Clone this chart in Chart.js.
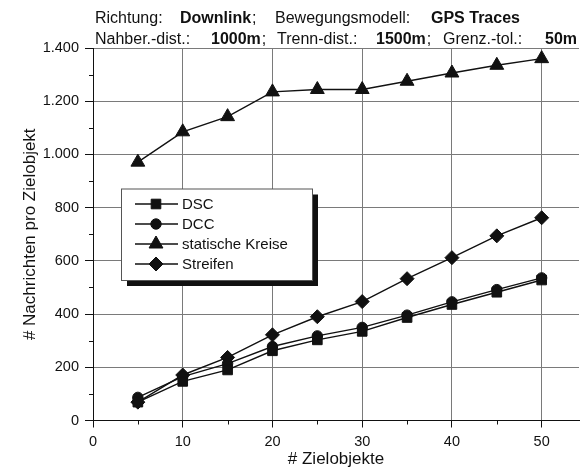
<!DOCTYPE html>
<html>
<head>
<meta charset="utf-8">
<script src="https://cdn.jsdelivr.net/npm/chart.js@4.4.1/dist/chart.umd.min.js"></script>
<style>
  body { margin: 0; background: #fff; }
  #wrap { width: 588px; height: 471px; }
</style>
</head>
<body>
<div id="wrap"><canvas id="chart" width="588" height="471"></canvas></div>
<script>
// values
const zielobjekte = [5, 10, 15, 20, 25, 30, 35, 40, 45, 50];
const dsc = [69, 147, 190, 262, 303, 335, 387, 436, 482, 528];
const dcc = [87, 165, 214, 278, 318, 350, 396, 446, 492, 536];
const statischeKreise = [971, 1085, 1142, 1235, 1244, 1244, 1275, 1306, 1335, 1360];
const streifen = [69, 171, 237, 322, 390, 447, 533, 612, 694, 762];

const seriesNames = ['DSC', 'DCC', 'statische Kreise', 'Streifen'];
const xMinorTicks = [5, 15, 25, 35, 45];
const yMinorTicks = [100, 300, 500, 700, 900, 1100, 1300];

// header text pieces: [text, bold, x]; x null = right after the previous piece
const headerLine1 = [['Richtung:', false, 95], ['Downlink', true, 180], [';', false, null], ['Bewegungsmodell:', false, 275], ['GPS Traces', true, 431]];
const headerLine2 = [['Nahber.-dist.:', false, 95], ['1000m', true, 211], [';', false, null], ['Trenn-dist.:', false, 277], ['1500m', true, 376], [';', false, null], ['Grenz.-tol.:', false, 443], ['50m', true, 545]];

const FONT = "'Liberation Sans', Arial, sans-serif";
const INK = '#111';

function germanNumber(v) {
  return String(v).replace(/\B(?=(\d{3})+(?!\d))/g, '.');
}

function makeDataset(label, values, style, radius) {
  return {
    label: label,
    data: zielobjekte.map((x, i) => ({ x: x, y: values[i] })),
    borderColor: INK,
    backgroundColor: INK,
    borderWidth: 1.4,
    pointStyle: style,
    pointRadius: radius,
    pointBorderWidth: 1,
    pointBorderColor: INK,
    pointBackgroundColor: INK,
    tension: 0,
  };
}

const datasets = [
  makeDataset(seriesNames[0], dsc, 'rect', 6.8),
  makeDataset(seriesNames[1], dcc, 'circle', 5.2),
  makeDataset(seriesNames[2], statischeKreise, 'triangle', 8),
  makeDataset(seriesNames[3], streifen, 'rectRot', 7),
];

// header above the plot, mixed regular / bold
const headerPlugin = {
  id: 'header',
  afterDraw(chart) {
    const ctx = chart.ctx;
    ctx.save();
    ctx.fillStyle = INK;
    ctx.textBaseline = 'alphabetic';
    [[headerLine1, 22.7], [headerLine2, 44.3]].forEach(([parts, y]) => {
      let cursor = 0;
      parts.forEach(([text, bold, x]) => {
        ctx.font = (bold ? 'bold ' : '') + '16px ' + FONT;
        const startX = x === null ? cursor + 1 : x;
        ctx.fillText(text, startX, y);
        cursor = startX + ctx.measureText(text).width;
      });
    });
    ctx.restore();
  }
};

// short minor tick marks
const minorTicksPlugin = {
  id: 'minorTicks',
  afterDraw(chart) {
    const ctx = chart.ctx;
    const xs = chart.scales.x, ys = chart.scales.y;
    const area = chart.chartArea;
    ctx.save();
    ctx.strokeStyle = INK;
    ctx.lineWidth = 1;
    ctx.beginPath();
    xMinorTicks.forEach(v => {
      const px = Math.round(xs.getPixelForValue(v)) + 0.5;
      ctx.moveTo(px, area.bottom);
      ctx.lineTo(px, area.bottom + 4);
    });
    yMinorTicks.forEach(v => {
      const py = Math.round(ys.getPixelForValue(v)) + 0.5;
      ctx.moveTo(area.left - 4, py);
      ctx.lineTo(area.left, py);
    });
    ctx.stroke();
    ctx.restore();
  }
};

// boxed legend with a dark drop shadow, as in the original
const boxLegendPlugin = {
  id: 'boxLegend',
  afterDraw(chart) {
    const ctx = chart.ctx;
    const box = { left: 121.5, top: 189, right: 312.5, bottom: 280.5 };
    const rows = [204, 224, 244, 264];
    ctx.save();
    ctx.fillStyle = '#111';
    ctx.fillRect(box.left + 5.5, box.top + 5.5, box.right - box.left, box.bottom - box.top);
    ctx.fillStyle = '#fff';
    ctx.fillRect(box.left, box.top, box.right - box.left, box.bottom - box.top);
    ctx.strokeStyle = '#555';
    ctx.lineWidth = 1;
    ctx.strokeRect(box.left, box.top, box.right - box.left, box.bottom - box.top);

    chart.data.datasets.forEach((ds, i) => {
      const y = rows[i];
      ctx.strokeStyle = INK;
      ctx.lineWidth = 1.4;
      ctx.beginPath();
      ctx.moveTo(135, y);
      ctx.lineTo(178, y);
      ctx.stroke();
      ctx.fillStyle = INK;
      ctx.lineWidth = 1;
      Chart.helpers.drawPoint(ctx, {
        pointStyle: ds.pointStyle,
        radius: ds.pointRadius,
        rotation: 0,
        borderWidth: 1
      }, 156, y);
      ctx.fillStyle = INK;
      ctx.font = '15px ' + FONT;
      ctx.textBaseline = 'middle';
      ctx.fillText(ds.label, 182, y + 0.5);
    });
    ctx.restore();
  }
};

new Chart(document.getElementById('chart').getContext('2d'), {
  type: 'line',
  data: { datasets: datasets },
  plugins: [headerPlugin, minorTicksPlugin, boxLegendPlugin],
  options: {
    responsive: false,
    animation: false,
    devicePixelRatio: 1,
    layout: { padding: { top: 48, right: 0, left: 0, bottom: 0 } },
    plugins: {
      legend: { display: false },
      tooltip: { enabled: false },
    },
    scales: {
      x: {
        type: 'linear',
        min: 0,
        max: 54.16,
        afterFit(scale) { scale.height = 50.5; },
        ticks: {
          stepSize: 10,
          includeBounds: false,
          padding: 6,
          color: INK,
          font: { family: FONT, size: 14.5 },
          callback: v => String(v),
        },
        grid: { color: '#7a7a7a', lineWidth: 1, tickColor: INK, tickLength: 7 },
        border: { color: INK, width: 1 },
        title: {
          display: true,
          text: '# Zielobjekte',
          color: INK,
          font: { family: FONT, size: 17 },
          padding: { top: 0, bottom: 1 },
        },
      },
      y: {
        min: 0,
        max: 1400,
        afterFit(scale) { scale.width = 93; },
        ticks: {
          stepSize: 200,
          padding: 6,
          color: INK,
          font: { family: FONT, size: 14.5 },
          callback: v => germanNumber(v),
        },
        grid: { color: '#7a7a7a', lineWidth: 1, tickColor: INK, tickLength: 8 },
        border: { color: INK, width: 1 },
        title: {
          display: true,
          text: '# Nachrichten pro Zielobjekt',
          color: INK,
          font: { family: FONT, size: 17 },
          padding: { top: 20, bottom: 0 },
        },
      },
    },
  },
});
</script>
</body>
</html>
